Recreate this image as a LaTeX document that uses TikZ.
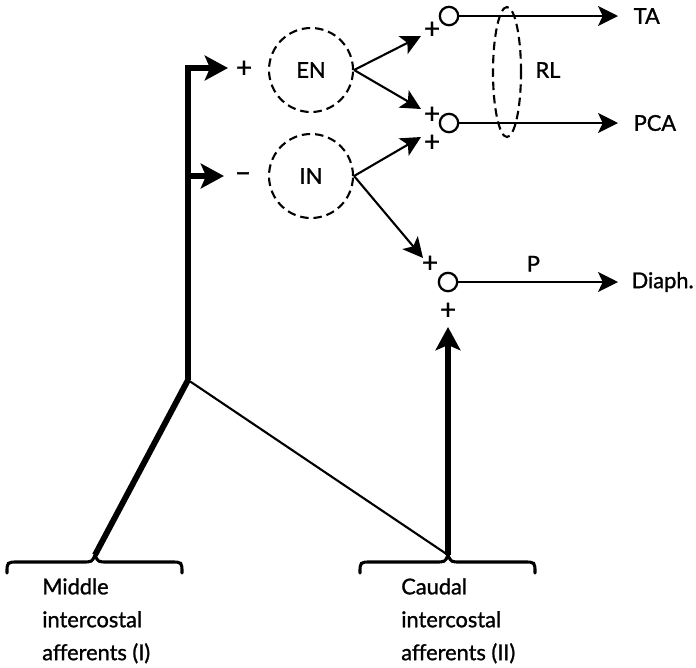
\documentclass[tikz,border=0pt]{standalone}
\usepackage{fontspec}
\setmainfont{Lato}[RawFeature={embolden=1.2}]
\usetikzlibrary{arrows.meta, positioning, shapes.geometric}

\begin{document}
\begin{tikzpicture}[
    x=0.025cm, y=-0.025cm,
    pool/.style = {circle, draw, dash pattern=on 6pt off 3.5pt, line width=1.5pt,
                   minimum size=2.1cm, inner sep=0pt, font=\fontsize{15.5}{18}\selectfont},
    motor/.style = {circle, draw, line width=1.6pt, minimum size=0.46cm, inner sep=0pt},
    txt/.style = {font=\fontsize{15.5}{18}\selectfont, inner sep=1pt},
    sign/.style = {font=\fontsize{20}{20}\selectfont, inner sep=0pt},
    arrow/.style = {-{Stealth[length=0.5cm, width=0.5cm, inset=0.12cm]}, line width=1.5pt},
    heavy/.style = {line width=4.2pt},
    heavyarrow/.style = {heavy, -{Stealth[length=0.58cm, width=0.62cm, inset=0.13cm]}},
    brace/.style = {line width=2.2pt, line cap=round}
  ]
  \useasboundingbox (0,0) rectangle (696,667);

  % interneurone pools
  \node[pool] (en)  at (311,70)  {EN};
  \node[pool] (inn) at (311,176) {IN};

  % motoneurones
  \node[motor] (ta)  at (449,16)  {};
  \node[motor] (pca) at (449,123) {};
  \node[motor] (p)   at (448,282) {};

  \coordinate (taend)  at (618,16);
  \coordinate (pcaend) at (618,123);
  \coordinate (pend)   at (618,282);
  \node[txt, right=0.35cm of taend]  (tatxt)  {TA};
  \node[txt, right=0.35cm of pcaend] (pcatxt) {PCA};
  \node[txt, right=0.3cm of pend]    (diaph)  {Diaph.};

  % signs
  \node[sign] (s-en)   at (244,69)  {+};
  \node[sign] (s-in)   at (243,177) {\textendash};
  \node[sign] (s-ta)   at (432,30)  {+};
  \node[sign] (s-pca1) at (432,115) {+};
  \node[sign] (s-pca2) at (432,143) {+};
  \node[sign] (s-p1)   at (430,264) {+};
  \node[sign] (s-p2)   at (448,311) {+};

  % recurrent laryngeal nerve
  \node[draw, ellipse, dash pattern=on 6pt off 3.5pt, line width=1.5pt,
        minimum width=0.7cm, minimum height=3.25cm, inner sep=0pt] (rl) at (507,72) {};
  \node[txt] (rltxt) at (548,70) {RL};

  % afferent trunk
  \coordinate (fork)   at (188,380);
  \coordinate (top)    at (188,68);
  \coordinate (midtap) at (188,176);
  \coordinate (entip)  at (228,68);
  \coordinate (intip)  at (224,176);
  \coordinate (midl)   at (95,555);
  \coordinate (caud)   at (448,555);
  \coordinate (caudtip) at (448,327);

  \draw[heavyarrow] (fork) -- (top) -- (entip);
  \draw[heavyarrow] (midtap) -- (intip);
  \draw[heavy] (midl) -- (fork);
  \draw[line width=1.5pt] (fork) -- (caud);
  \draw[heavyarrow] (caud) -- (caudtip);

  % interneurone outputs
  \coordinate (en-ta)  at (421,36);
  \coordinate (en-pca) at (421,109);
  \coordinate (in-pca) at (421,137);
  \coordinate (in-p)   at (423,258);
  \draw[arrow] (en.east)  -- (en-ta);
  \draw[arrow] (en.east)  -- (en-pca);
  \draw[arrow] (inn.east) -- (in-pca);
  \draw[arrow] (inn.east) -- (in-p);

  % motor outputs
  \draw[arrow] (ta)  -- (taend);
  \draw[arrow] (pca) -- (pcaend);
  \draw[arrow] (p)   -- (pend) node[txt, pos=0.47, above=0.2cm] (ptxt) {P};

  % braces
  \draw[brace] (7,573) .. controls (7,562) .. (18,562) -- (82,562)
    .. controls (92,562) .. (95,555) .. controls (98,562) .. (108,562)
    -- (171,562) .. controls (182,562) .. (182,573);
  \draw[brace] (360,573) .. controls (360,562) .. (371,562) -- (435,562)
    .. controls (445,562) .. (448,555) .. controls (451,562) .. (461,562)
    -- (524,562) .. controls (535,562) .. (535,573);

  % afferent labels
  \node[txt, align=left, anchor=north west, inner sep=0pt,
        font=\fontsize{15.5}{23.4}\selectfont] (midtxt) at (42,578)
        {Middle\\intercostal\\afferents (I)};
  \node[txt, align=left, anchor=north west, inner sep=0pt,
        font=\fontsize{15.5}{23.4}\selectfont] (caudtxt) at (401,578)
        {Caudal\\intercostal\\afferents (II)};
\end{tikzpicture}
\end{document}
